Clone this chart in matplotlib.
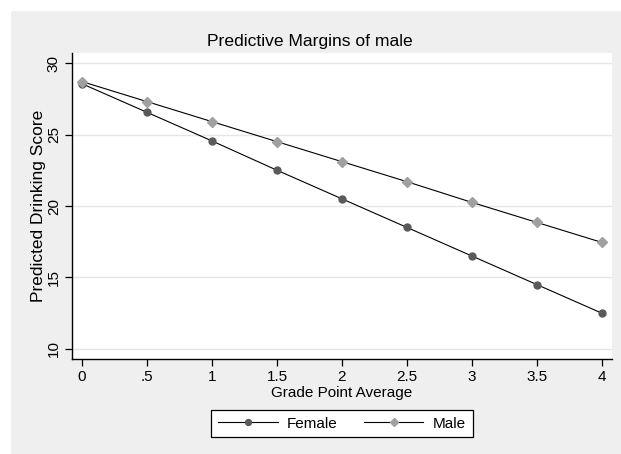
import matplotlib.pyplot as plt
from matplotlib.patches import Rectangle

plt.rcParams['font.family'] = ['Liberation Sans', 'DejaVu Sans']

# grade point average values
gpa = [0, 0.5, 1, 1.5, 2, 2.5, 3, 3.5, 4]
gpa_labels = ['0', '.5', '1', '1.5', '2', '2.5', '3', '3.5', '4']
female = [28.55, 26.55, 24.55, 22.5, 20.5, 18.5, 16.5, 14.5, 12.5]
male = [28.7, 27.3, 25.9, 24.5, 23.1, 21.7, 20.25, 18.85, 17.45]
y_ticks = [10, 15, 20, 25, 30]

W, H = 621, 454
fig = plt.figure(figsize=(W / 100, H / 100), dpi=100)
fig.patch.set_facecolor('white')
# stata-like gray graph region
fig.add_artist(Rectangle((11 / W, 0), 1 - 11 / W, 1 - 11 / H,
                         transform=fig.transFigure, facecolor='#efefef',
                         edgecolor='none', zorder=-1))

ax = fig.add_axes([72 / W, 1 - 359 / H, 540 / W, 306 / H])
ax.set_facecolor('white')
ax.plot(gpa, female, color='black', lw=0.8, marker='o', markersize=5,
        markerfacecolor='#5a5a5a', markeredgecolor='#5a5a5a', label='Female')
ax.plot(gpa, male, color='black', lw=0.8, marker='D', markersize=5,
        markerfacecolor='#a0a0a0', markeredgecolor='#a0a0a0', label='Male')

ax.set_xlim(-0.077, 4.077)
ax.set_ylim(9.3, 30.7)
ax.set_xticks(gpa)
ax.set_xticklabels(gpa_labels)
ax.set_yticks(y_ticks)
ax.set_yticklabels([str(v) for v in y_ticks], rotation=90, va='center')
for v in y_ticks:
    ax.axhline(v, color='#e6e6e6', lw=1, zorder=0)

for s in ['top', 'right']:
    ax.spines[s].set_visible(False)
for s in ['left', 'bottom']:
    ax.spines[s].set_linewidth(1.0)
ax.tick_params(length=5, width=0.9, labelsize=11, pad=3)

ax.set_xlabel('Grade Point Average', fontsize=11, va='baseline')
ax.xaxis.set_label_coords(0.5, (359 - 397) / 306)
ax.set_ylabel('Predicted Drinking Score', fontsize=12.5, va='center')
ax.yaxis.set_label_coords((38.5 - 72) / 540, 0.5)
fig.text(310 / W, 1 - 46 / H, 'Predictive Margins of male', ha='center',
         va='baseline', fontsize=12.6)

leg = fig.legend(loc='center', bbox_to_anchor=(342 / W, 1 - 423.5 / H), ncol=2,
                 fontsize=11, frameon=True, fancybox=False, handlelength=3.9,
                 handletextpad=0.6, columnspacing=1.7, borderpad=0.45,
                 markerscale=0.85, edgecolor='black', facecolor='white',
                 framealpha=1)
leg.get_frame().set_linewidth(0.9)

fig.savefig('out.png', dpi=100)
